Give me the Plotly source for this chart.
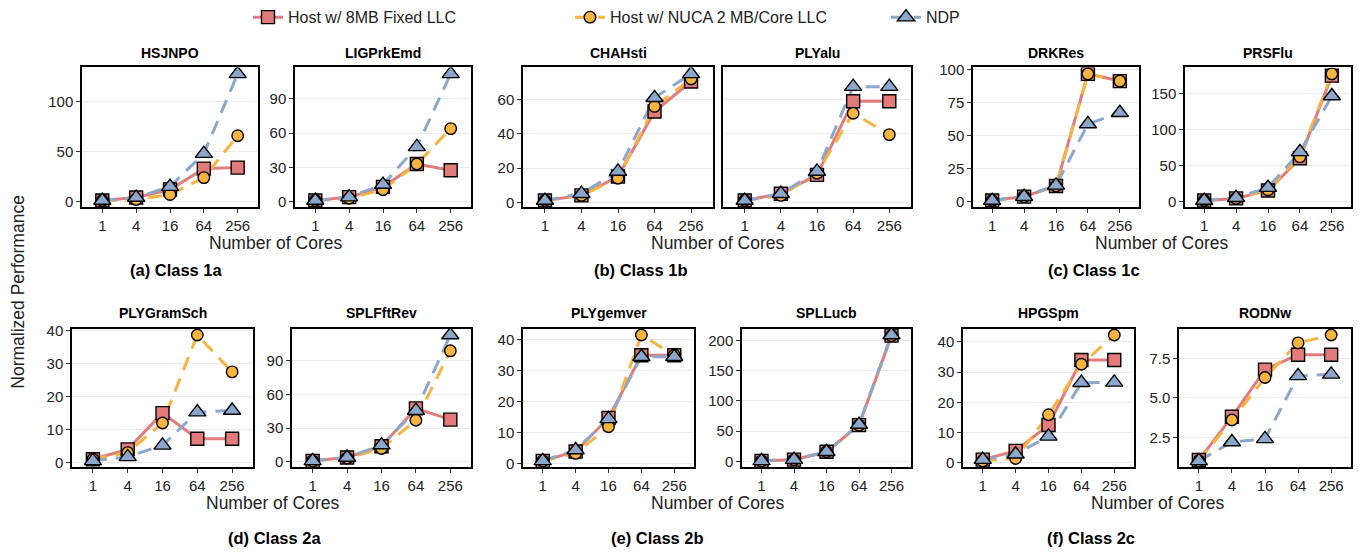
import plotly.graph_objects as go

# ---------------------------------------------------------------------------
# Data: normalized performance vs. number of cores
# ---------------------------------------------------------------------------
cores = ["1", "4", "16", "64", "256"]
series_labels = ["Host w/ 8MB Fixed LLC", "Host w/ NUCA 2 MB/Core LLC", "NDP"]

# Class 1a
HSJNPO_fixed = [1, 4, 12, 33, 34]
HSJNPO_nuca = [1, 2, 7, 24, 66]
HSJNPO_ndp = [1, 4, 15, 48, 128]
LIGPrkEmd_fixed = [1, 4, 13, 33, 27.5]
LIGPrkEmd_nuca = [1, 3, 10.5, 33, 64]
LIGPrkEmd_ndp = [1, 4, 15, 48, 112]
# Class 1b
CHAHsti_fixed = [1, 4, 15, 53, 70.5]
CHAHsti_nuca = [1, 4, 14, 56, 72]
CHAHsti_ndp = [1, 5, 18, 61, 75]
PLYalu_fixed = [1, 5, 16, 59, 59]
PLYalu_nuca = [1, 4, 17, 52, 39.5]
PLYalu_ndp = [1, 5, 18, 67.5, 67.5]
# Class 1c
DRKRes_fixed = [1, 4, 12, 97, 91.5]
DRKRes_nuca = [1, 4, 12, 97, 91.5]
DRKRes_ndp = [1, 4, 12.5, 59, 67.5]
PRSFlu_fixed = [1, 4, 15, 60, 175.5]
PRSFlu_nuca = [1, 4, 16, 62, 178]
PRSFlu_ndp = [1, 5, 19, 69, 147]
# Class 2a
PLYGramSch_fixed = [1, 4, 15, 7.2, 7.2]
PLYGramSch_nuca = [1, 3, 12, 38.7, 27.5]
PLYGramSch_ndp = [0.5, 1.7, 5.2, 15.3, 15.8]
SPLFftRev_fixed = [1, 4, 14, 47.5, 37.5]
SPLFftRev_nuca = [1, 3.5, 12, 37, 98.5]
SPLFftRev_ndp = [1, 4, 15, 45.5, 112.5]
# Class 2b
PLYgemver_fixed = [1, 4, 14.8, 35, 35]
PLYgemver_nuca = [1, 3.4, 12, 41.5, 35]
PLYgemver_ndp = [1, 4.5, 14.5, 34.5, 34.5]
SPLLucb_fixed = [1, 3, 16, 60, 208]
SPLLucb_nuca = [1, 3, 16, 60, 208]
SPLLucb_ndp = [1, 3, 16, 61, 209]
# Class 2c
HPGSpm_fixed = [1, 3.9, 12.5, 34, 34]
HPGSpm_nuca = [0.6, 1.4, 15.9, 32.6, 42.3]
HPGSpm_ndp = [1, 2.8, 8.7, 26.5, 26.6]
RODNw_fixed = [1.05, 3.8, 6.8, 7.75, 7.75]
RODNw_nuca = [1.0, 3.6, 6.3, 8.5, 9.0]
RODNw_ndp = [1.0, 2.2, 2.4, 6.4, 6.5]

# ---------------------------------------------------------------------------
# Layout of the panels (pixel geometry of each plotting area)
# ---------------------------------------------------------------------------
W, H = 1361, 555
ROWS = {0: (60, 203), 1: (328, 470)}  # top, bottom of plot area

panels = [
    # title, series, left, right, row, y tick values, shared-scale group
    ("HSJNPO", (HSJNPO_fixed, HSJNPO_nuca, HSJNPO_ndp), 82, 258, 0, [0, 50, 100], "a1"),
    ("LIGPrkEmd", (LIGPrkEmd_fixed, LIGPrkEmd_nuca, LIGPrkEmd_ndp), 295, 471, 0, [0, 30, 60, 90], "a2"),
    ("CHAHsti", (CHAHsti_fixed, CHAHsti_nuca, CHAHsti_ndp), 523, 713, 0, [0, 20, 40, 60], "b"),
    ("PLYalu", (PLYalu_fixed, PLYalu_nuca, PLYalu_ndp), 723, 911, 0, [0, 20, 40, 60], "b"),
    ("DRKRes", (DRKRes_fixed, DRKRes_nuca, DRKRes_ndp), 973, 1139, 0, [0, 25, 50, 75, 100], "c1"),
    ("PRSFlu", (PRSFlu_fixed, PRSFlu_nuca, PRSFlu_ndp), 1185, 1351, 0, [0, 50, 100, 150], "c2"),
    ("PLYGramSch", (PLYGramSch_fixed, PLYGramSch_nuca, PLYGramSch_ndp), 72, 253, 1, [0, 10, 20, 30, 40], "d1"),
    ("SPLFftRev", (SPLFftRev_fixed, SPLFftRev_nuca, SPLFftRev_ndp), 292, 471, 1, [0, 30, 60, 90], "d2"),
    ("PLYgemver", (PLYgemver_fixed, PLYgemver_nuca, PLYgemver_ndp), 523, 694, 1, [0, 10, 20, 30, 40], "e1"),
    ("SPLLucb", (SPLLucb_fixed, SPLLucb_nuca, SPLLucb_ndp), 742, 911, 1, [0, 50, 100, 150, 200], "e2"),
    ("HPGSpm", (HPGSpm_fixed, HPGSpm_nuca, HPGSpm_ndp), 963, 1134, 1, [0, 10, 20, 30, 40], "f1"),
    ("RODNw", (RODNw_fixed, RODNw_nuca, RODNw_ndp), 1179, 1351, 1, [2.5, 5.0, 7.5], "f2"),
]

# subfigure captions and x-axis titles: (caption, caption x, axis-title x, row)
captions = [
    ("(a) Class 1a", 176, 275, 0),
    ("(b) Class 1b", 641, 717, 0),
    ("(c) Class 1c", 1094, 1161, 0),
    ("(d) Class 2a", 274, 272, 1),
    ("(e) Class 2b", 657, 717, 1),
    ("(f) Class 2c", 1091, 1157, 1),
]
CAPTION_Y = {0: 268, 1: 543}
XTITLE_Y = {0: 240, 1: 507}
PTITLE_Y = {0: 45, 1: 312}

colors = ["#E27B79", "#F7B43F", "#8BA7CC"]
symbols = ["square", "circle", "triangle-up"]
msizes = [13, 11.5, 15]
dashes = ["solid", "14px,9px", "14px,9px"]

FONT = "Liberation Sans, Arial, sans-serif"

# y ranges with 5 % expansion, shared within a group
group_rng = {}
for title, series, l, r, row, yt, grp in panels:
    vals = [v for s in series for v in s]
    lo, hi = group_rng.get(grp, (min(vals), max(vals)))
    group_rng[grp] = (min(lo, min(vals)), max(hi, max(vals)))


def px_x(v):
    return v / W


def px_y(v):
    return 1 - v / H


fig = go.Figure()
layout = dict(
    width=W,
    height=H,
    margin=dict(l=0, r=0, t=0, b=0),
    paper_bgcolor="white",
    plot_bgcolor="white",
    font=dict(family=FONT, color="#222222"),
    showlegend=True,
)
annotations = []

seen_group = set()
for i, (title, series, l, r, row, yt, grp) in enumerate(panels, start=1):
    top, bot = ROWS[row]
    xref = "x" if i == 1 else f"x{i}"
    yref = "y" if i == 1 else f"y{i}"
    xkey = "xaxis" if i == 1 else f"xaxis{i}"
    ykey = "yaxis" if i == 1 else f"yaxis{i}"

    lo, hi = group_rng[grp]
    pad = 0.05 * (hi - lo)
    show_labels = grp not in seen_group
    seen_group.add(grp)

    layout[xkey] = dict(
        domain=[px_x(l), px_x(r)],
        anchor=yref,
        type="category",
        categoryorder="array",
        categoryarray=cores,
        range=[-0.6, 4.6],
        showgrid=False,
        showline=True,
        mirror=True,
        linecolor="black",
        linewidth=1.5,
        ticks="outside",
        ticklen=4,
        tickwidth=1,
        tickcolor="#333333",
        tickfont=dict(size=15, color="#222222"),
        zeroline=False,
        fixedrange=True,
    )
    layout[ykey] = dict(
        domain=[px_y(bot), px_y(top)],
        anchor=xref,
        range=[lo - pad, hi + pad],
        tickvals=yt,
        ticktext=[f"{v:.1f}" if grp == "f2" else f"{v:g}" for v in yt],
        showticklabels=show_labels,
        ticks="outside" if show_labels else "",
        ticklen=4,
        tickwidth=1,
        tickcolor="#333333",
        tickfont=dict(size=15, color="#222222"),
        showgrid=True,
        gridcolor="#EBEBEB",
        gridwidth=1.2,
        showline=True,
        mirror=True,
        linecolor="black",
        linewidth=1.5,
        zeroline=False,
        fixedrange=True,
    )

    # lines first, markers on top
    for k in range(3):
        fig.add_trace(go.Scatter(
            x=cores, y=series[k], xaxis=xref, yaxis=yref, mode="lines",
            line=dict(color=colors[k], width=3, dash=dashes[k]),
            showlegend=False, hoverinfo="skip",
        ))
    for k in range(3):
        fig.add_trace(go.Scatter(
            x=cores, y=series[k], xaxis=xref, yaxis=yref, mode="markers",
            marker=dict(symbol=symbols[k], size=msizes[k], color=colors[k],
                        line=dict(color="black", width=1.4)),
            name=series_labels[k], showlegend=False,
        ))

    annotations.append(dict(
        x=px_x((l + r) / 2), y=px_y(PTITLE_Y[row]), xref="paper", yref="paper",
        text=f"<b>{title}</b>", showarrow=False, xanchor="center", yanchor="middle",
        font=dict(size=14, color="black", family=FONT),
    ))

for cap, cx, tx, row in captions:
    annotations.append(dict(
        x=px_x(tx), y=px_y(XTITLE_Y[row]), xref="paper", yref="paper",
        text="Number of Cores", showarrow=False, xanchor="center", yanchor="middle",
        font=dict(size=17.5, color="#222222", family=FONT),
    ))
    annotations.append(dict(
        x=px_x(cx), y=px_y(CAPTION_Y[row]), xref="paper", yref="paper",
        text=f"<b>{cap}</b>", showarrow=False, xanchor="center", yanchor="middle",
        font=dict(size=16.5, color="black", family=FONT),
    ))

annotations.append(dict(
    x=px_x(18), y=px_y(290), xref="paper", yref="paper",
    text="Normalized Performance", showarrow=False, textangle=-90,
    xanchor="center", yanchor="middle",
    font=dict(size=17.5, color="#222222", family=FONT),
))

# legend: one entry per series, each in its own legend box placed along the top
legend_text_x = [290, 612, 928]
for k in range(3):
    lname = "legend" if k == 0 else f"legend{k + 1}"
    fig.add_trace(go.Scatter(
        x=[None], y=[None], mode="lines+markers", name=series_labels[k],
        line=dict(color=colors[k], width=3, dash=dashes[k]),
        marker=dict(symbol=symbols[k], size=msizes[k], color=colors[k],
                    line=dict(color="black", width=1.4)),
        legend=lname, showlegend=True,
    ))
    layout[lname] = dict(
        x=px_x(legend_text_x[k] - 42), y=px_y(-9), xanchor="left", yanchor="top",
        orientation="h", bgcolor="rgba(0,0,0,0)",
        font=dict(size=16, color="#222222", family=FONT),
    )

layout["annotations"] = annotations
fig.update_layout(**layout)
fig.write_html("out.html")
